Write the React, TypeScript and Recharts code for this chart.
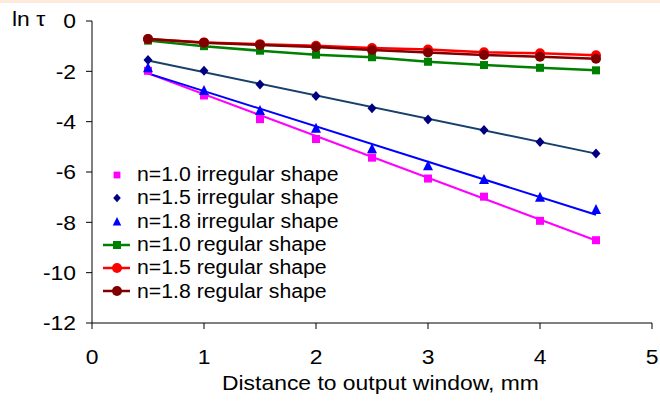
import { ComposedChart, Line, XAxis, YAxis } from 'recharts'

const distances = [0.5, 1, 1.5, 2, 2.5, 3, 3.5, 4, 4.5]
const irregular10 = [-1.98, -2.96, -3.9, -4.69, -5.43, -6.26, -6.98, -7.94, -8.71]
const irregular15 = [-1.55, -1.98, -2.52, -2.98, -3.47, -3.91, -4.33, -4.81, -5.26]
const irregular18 = [-1.88, -2.78, -3.58, -4.28, -5.1, -5.77, -6.32, -7.02, -7.51]
const regular10 = [-0.78, -1.0, -1.18, -1.34, -1.44, -1.62, -1.75, -1.86, -1.96]
const regular15 = [-0.72, -0.85, -0.92, -0.98, -1.07, -1.13, -1.24, -1.28, -1.36]
const regular18 = [-0.72, -0.86, -0.95, -1.03, -1.15, -1.25, -1.35, -1.42, -1.5]

// trendline ends for the irregular points
const fitEnds = [0.5, 4.5]
const fit10 = [-2.08, -8.72]
const fit15 = [-1.57, -5.27]
const fit18 = [-2.08, -7.7]

const xTicks = [0, 1, 2, 3, 4, 5]
const yTicks = [-12, -10, -8, -6, -4, -2, 0]

const rows = distances.map((x, i) => ({
  x,
  irr10: irregular10[i],
  irr15: irregular15[i],
  irr18: irregular18[i],
  reg10: regular10[i],
  reg15: regular15[i],
  reg18: regular18[i],
}))
const fitRows = fitEnds.map((x, i) => ({ x, fit10: fit10[i], fit15: fit15[i], fit18: fit18[i] }))

const FONT = '"Liberation Sans", Arial, sans-serif'
// the source text is a bit wider than Arial
const STRETCH = 1.09

type Kind = 'square' | 'diamond' | 'triangle' | 'circle'

function Marker({ kind, cx, cy, color, size = 1 }: { kind: Kind; cx: number; cy: number; color: string; size?: number }) {
  if (kind === 'square') return <rect x={cx - 4 * size} y={cy - 4 * size} width={8 * size} height={8 * size} fill={color} />
  if (kind === 'diamond')
    return <polygon points={`${cx},${cy - 5 * size} ${cx + 4.5 * size},${cy} ${cx},${cy + 5 * size} ${cx - 4.5 * size},${cy}`} fill={color} />
  if (kind === 'triangle')
    return <polygon points={`${cx},${cy - 6 * size} ${cx + 5 * size},${cy + 4 * size} ${cx - 5 * size},${cy + 4 * size}`} fill={color} />
  return <circle cx={cx} cy={cy} r={5 * size} fill={color} />
}

const dotOf = (kind: Kind, color: string) => (p: any) => (
  <Marker key={p.index} kind={kind} cx={p.cx} cy={p.cy} color={color} />
)

function XTick({ x, y, payload }: any) {
  return (
    <text transform={`translate(${x},${y}) scale(${STRETCH},1)`} textAnchor="middle" dy="0.71em" fontSize={21} fontFamily={FONT} fill="#000">
      {payload.value}
    </text>
  )
}

function YTick({ x, y, payload }: any) {
  return (
    <text transform={`translate(${x},${y}) scale(${STRETCH},1)`} textAnchor="end" dy="0.355em" fontSize={21} fontFamily={FONT} fill="#000">
      {payload.value}
    </text>
  )
}

const legendItems: { label: string; kind: Kind; color: string; line: boolean }[] = [
  { label: 'n=1.0 irregular shape', kind: 'square', color: '#FF00FF', line: false },
  { label: 'n=1.5 irregular shape', kind: 'diamond', color: '#000080', line: false },
  { label: 'n=1.8 irregular shape', kind: 'triangle', color: '#0000FF', line: false },
  { label: 'n=1.0 regular shape', kind: 'square', color: '#008000', line: true },
  { label: 'n=1.5 regular shape', kind: 'circle', color: '#FF0000', line: true },
  { label: 'n=1.8 regular shape', kind: 'circle', color: '#800000', line: true },
]

function ChartLegend() {
  return (
    <div style={{ position: 'absolute', left: 98, top: 163.3, fontFamily: FONT, fontSize: 19.5, color: '#000' }}>
      {legendItems.map(it => (
        <div key={it.label} style={{ display: 'flex', alignItems: 'center', height: 23.3 }}>
          <svg width={38} height={20} style={{ marginRight: 1 }}>
            {it.line && <line x1={5} x2={32} y1={10} y2={10} stroke={it.color} strokeWidth={2.5} />}
            <Marker kind={it.kind} cx={19} cy={10} color={it.color} size={it.line ? 1 : 0.85} />
          </svg>
          <span style={{ display: 'inline-block', lineHeight: 1, whiteSpace: 'nowrap', transform: `scaleX(${STRETCH})`, transformOrigin: 'left center' }}>
            {it.label}
          </span>
        </div>
      ))}
    </div>
  )
}

export default function App() {
  return (
    <div style={{ position: 'absolute', left: 0, top: 0, width: 660, height: 401, background: '#fff', overflow: 'hidden' }}>
      <div style={{ position: 'absolute', left: 0, top: 0, width: 660, height: 3, background: '#FCEBDC' }} />
      <ComposedChart width={660} height={401} margin={{ top: 21, right: 8, bottom: 0, left: 0 }}>
        <XAxis
          type="number"
          dataKey="x"
          domain={[0, 5]}
          ticks={xTicks}
          tick={<XTick />}
          tickSize={6}
          tickMargin={20}
          height={78}
          stroke="#000"
          allowDataOverflow
        />
        <YAxis
          type="number"
          domain={[-12, 0]}
          ticks={yTicks}
          tick={<YTick />}
          tickSize={6}
          tickMargin={10}
          width={92}
          stroke="#000"
          allowDataOverflow
        />
        <Line data={rows} dataKey="irr10" stroke="none" dot={dotOf('square', '#FF00FF')} activeDot={false} isAnimationActive={false} />
        <Line data={rows} dataKey="irr15" stroke="none" dot={dotOf('diamond', '#000080')} activeDot={false} isAnimationActive={false} />
        <Line data={rows} dataKey="irr18" stroke="none" dot={dotOf('triangle', '#0000FF')} activeDot={false} isAnimationActive={false} />
        <Line data={fitRows} dataKey="fit10" stroke="#FF00FF" strokeWidth={2} dot={false} activeDot={false} isAnimationActive={false} />
        <Line data={fitRows} dataKey="fit15" stroke="#17406B" strokeWidth={2} dot={false} activeDot={false} isAnimationActive={false} />
        <Line data={fitRows} dataKey="fit18" stroke="#0000FF" strokeWidth={2} dot={false} activeDot={false} isAnimationActive={false} />
        <Line data={rows} dataKey="reg10" stroke="#008000" strokeWidth={2.5} dot={dotOf('square', '#008000')} activeDot={false} isAnimationActive={false} />
        <Line data={rows} dataKey="reg15" stroke="#FF0000" strokeWidth={2.5} dot={dotOf('circle', '#FF0000')} activeDot={false} isAnimationActive={false} />
        <Line data={rows} dataKey="reg18" stroke="#800000" strokeWidth={2.5} dot={dotOf('circle', '#800000')} activeDot={false} isAnimationActive={false} />
      </ComposedChart>
      <div style={{ position: 'absolute', left: 12, top: 7, fontFamily: FONT, fontSize: 21, transform: `scaleX(${STRETCH})`, transformOrigin: 'left top' }}>
        ln τ
      </div>
      <div style={{ position: 'absolute', left: 222, top: 371, fontFamily: FONT, fontSize: 21, whiteSpace: 'nowrap', transform: `scaleX(${STRETCH})`, transformOrigin: 'left top' }}>
        Distance to output window, mm
      </div>
      <ChartLegend />
    </div>
  )
}
